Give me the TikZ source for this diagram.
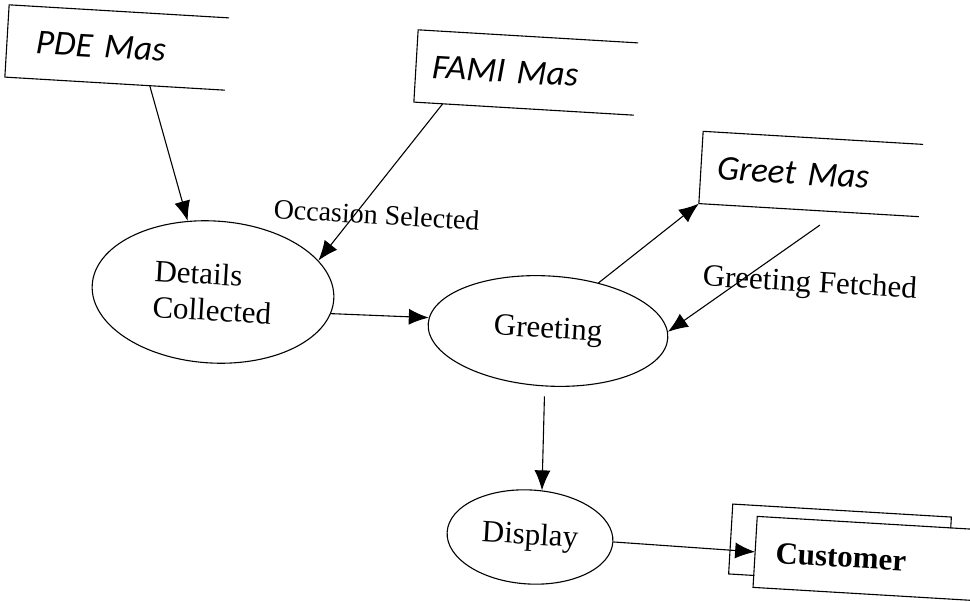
\documentclass[tikz,border=0pt]{standalone}
\usepackage{fontspec}
\setmainfont{Liberation Serif}
\newfontfamily\storefont{Carlito}
\usetikzlibrary{shapes.geometric, arrows.meta, calc}

\begin{document}
\begin{tikzpicture}[
        x=1pt, y=-1pt,
        % Styles
        process/.style={
            ellipse, draw, line width=1.1pt, rotate=-3.4,
            font=\fontsize{31}{36}\selectfont, align=left, inner sep=0pt
        },
        store/.style={
            rectangle, rotate=-3.4,
            text width=188pt, inner xsep=16pt, minimum height=72pt,
            font=\storefont\itshape\fontsize{35}{40}\selectfont, align=left
        },
        storeline/.style={
            line width=1.1pt
        },
        entity/.style={
            rectangle, draw, line width=1.1pt, rotate=-3.4, minimum height=70pt
        },
        flow/.style={
            -{Latex[length=20pt, width=16pt]}, line width=1.1pt
        },
        flowlabel/.style={
            rotate=-3.4, font=\fontsize{31}{36}\selectfont, inner sep=0pt
        }
    ]
        \useasboundingbox (0,0) rectangle (970,602);
        \clip (0,0) rectangle (970,602);

        % Data stores
        \node[store, text width=162pt, inner xsep=29pt] (pde) at (117,47.5) {PDE Mas};
        \node[store] (fami) at (526,72.5) {FAMI Mas};
        \node[store] (greetmas) at (811,174) {Greet Mas};
        \foreach \s in {pde, fami, greetmas}
            \draw[storeline] (\s.north east) -- (\s.north west) -- (\s.south west) -- (\s.south east);

        % Processes
        \node[process, minimum width=242pt, minimum height=142pt] (details) at (213,292) {Details\\Collected};
        \node[process, minimum width=240pt, minimum height=110pt] (greeting) at (548,331) {Greeting};
        \node[process, minimum width=166pt, minimum height=94pt] (display) at (530,537) {Display};

        % External entity (front copy runs off the page)
        \node[entity, minimum width=219pt] (custback) at (840,545.5) {};
        \node[entity, draw=none, fill=white, text width=165pt, inner xsep=20pt, align=left,
              font=\bfseries\fontsize{31}{36}\selectfont] (customer) at (858,558) {Customer};
        \draw[storeline] ($(customer.north west)!1.2!(customer.north east)$) -- (customer.north west)
            -- (customer.south west) -- ($(customer.south west)!1.2!(customer.south east)$);

        % Flows
        \draw[flow] (pde.-46) -- (details.113);
        \draw[flow] (fami.204) -- node[flowlabel, pos=0.7, xshift=21pt, font=\fontsize{28}{32}\selectfont] (occasion) {Occasion Selected} (details.20);
        \draw[flow] (details.-7) -- (greeting.177);
        \draw[flow] (greeting.47) -- (greetmas.south west);
        \draw[flow] ($(greetmas.south)+(11,15)$) -- node[flowlabel, pos=0.52, xshift=69pt] (fetched) {Greeting Fetched} (greeting.3);
        \draw[flow, shorten <=10pt] (greeting.south) -- (display.79);
        \draw[flow] (display.east) -- (customer.west);

    \end{tikzpicture}
\end{document}
